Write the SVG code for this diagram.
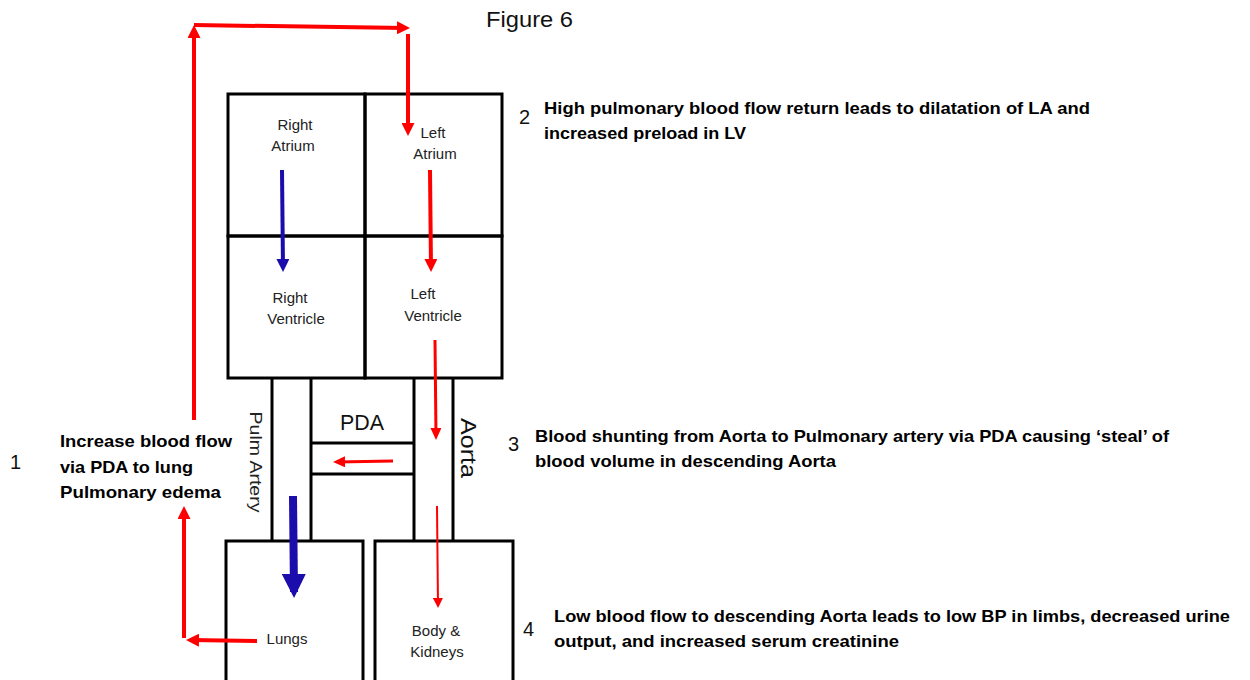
<svg xmlns="http://www.w3.org/2000/svg" width="1250" height="680" viewBox="0 0 1250 680">
<style>
.box{fill:none;stroke:#000;stroke-width:3}
.wall{stroke:#000;stroke-width:3;fill:none}
.lbl{font-family:"Liberation Sans",Arial,sans-serif;font-size:15px;fill:#222;text-anchor:middle}
.big{font-family:"Liberation Sans",Arial,sans-serif;font-size:22px;fill:#111}
.note{font-family:"Liberation Sans",Arial,sans-serif;font-size:17px;font-weight:bold;fill:#000}
.num{font-family:"Liberation Sans",Arial,sans-serif;font-size:20px;fill:#111}
.red{stroke:#ff0000;fill:none}
.blue{stroke:#1a0dab;fill:none}
</style>
<defs>
<marker id="ar" markerUnits="userSpaceOnUse" viewBox="0 0 13 13" markerWidth="13" markerHeight="13" refX="9" refY="6.5" orient="auto"><path d="M0,0 L13,6.5 L0,13 z" fill="#ff0000"/></marker>
<marker id="arm" markerUnits="userSpaceOnUse" viewBox="0 0 12 11" markerWidth="12" markerHeight="11" refX="8" refY="5.5" orient="auto"><path d="M0,0 L12,5.5 L0,11 z" fill="#ff0000"/></marker>
<marker id="ars" markerUnits="userSpaceOnUse" viewBox="0 0 10 10" markerWidth="10" markerHeight="10" refX="7" refY="5" orient="auto"><path d="M0,0 L10,5 L0,10 z" fill="#ff0000"/></marker>
<marker id="ab" markerUnits="userSpaceOnUse" viewBox="0 0 13 13" markerWidth="13" markerHeight="13" refX="9" refY="6.5" orient="auto"><path d="M0,0 L13,6.5 L0,13 z" fill="#1a0dab"/></marker>
<marker id="abl" markerUnits="userSpaceOnUse" viewBox="0 0 24 24" markerWidth="24" markerHeight="24" refX="18" refY="12" orient="auto"><path d="M0,0 L24,12 L0,24 z" fill="#1a0dab"/></marker>
</defs>
<rect width="1250" height="680" fill="#fff"/>

<text class="big" x="486" y="27" textLength="87" lengthAdjust="spacingAndGlyphs">Figure 6</text>

<g id="right-atrium">
<rect class="box" x="228" y="94" width="137" height="142"/>
<text class="lbl" x="295" y="130">Right</text>
<text class="lbl" x="293" y="151">Atrium</text>
</g>
<g id="left-atrium">
<rect class="box" x="365" y="94" width="137" height="142"/>
<text class="lbl" x="433" y="138">Left</text>
<text class="lbl" x="435" y="159">Atrium</text>
</g>
<g id="right-ventricle">
<rect class="box" x="228" y="236" width="137" height="142"/>
<text class="lbl" x="290" y="303">Right</text>
<text class="lbl" x="296" y="324">Ventricle</text>
</g>
<g id="left-ventricle">
<rect class="box" x="365" y="236" width="137" height="142"/>
<text class="lbl" x="423" y="299">Left</text>
<text class="lbl" x="433" y="321">Ventricle</text>
</g>
<g id="pulm-artery">
<line class="wall" x1="272" y1="378" x2="272" y2="541"/>
<line class="wall" x1="311" y1="378" x2="311" y2="541"/>
<text class="lbl" style="font-size:17px" transform="translate(250,462) rotate(90)" textLength="101" lengthAdjust="spacingAndGlyphs">Pulm Artery</text>
</g>
<g id="pda">
<line class="wall" x1="311" y1="443" x2="414" y2="443"/>
<line class="wall" x1="311" y1="474" x2="414" y2="474"/>
<text class="big" x="362" y="430" text-anchor="middle" textLength="44" lengthAdjust="spacingAndGlyphs">PDA</text>
</g>
<g id="aorta">
<line class="wall" x1="414" y1="378" x2="414" y2="541"/>
<line class="wall" x1="453" y1="378" x2="453" y2="541"/>
<text class="big" text-anchor="middle" transform="translate(461,448) rotate(90)" textLength="60" lengthAdjust="spacingAndGlyphs">Aorta</text>
</g>
<g id="lungs">
<rect class="box" x="226" y="541" width="137" height="160"/>
<text class="lbl" x="287" y="644">Lungs</text>
</g>
<g id="body-kidneys">
<rect class="box" x="375" y="541" width="138" height="160"/>
<text class="lbl" x="436" y="636">Body &amp;</text>
<text class="lbl" x="437" y="657">Kidneys</text>
</g>

<g id="connectors">
<line class="red" stroke-width="4" x1="194" y1="420" x2="194" y2="29" marker-end="url(#ar)"/>
<line class="red" stroke-width="4" x1="194" y1="25" x2="406" y2="28" marker-end="url(#ar)"/>
<line class="red" stroke-width="4" x1="408" y1="34" x2="408" y2="132" marker-end="url(#ar)"/>
<line class="blue" stroke-width="4" x1="282" y1="170" x2="283" y2="268" marker-end="url(#ab)"/>
<line class="red" stroke-width="4" x1="430" y1="170" x2="431" y2="268" marker-end="url(#ar)"/>
<line class="red" stroke-width="3" x1="435" y1="340" x2="436" y2="436" marker-end="url(#arm)"/>
<line class="red" stroke-width="3" x1="393" y1="461" x2="337" y2="462" marker-end="url(#arm)"/>
<line class="blue" stroke-width="8" x1="293" y1="496" x2="294" y2="592" marker-end="url(#abl)"/>
<line class="red" stroke-width="2" x1="437" y1="506" x2="438" y2="605" marker-end="url(#ars)"/>
<line class="red" stroke-width="4" x1="257" y1="641" x2="190" y2="640" marker-end="url(#ar)"/>
<line class="red" stroke-width="4" x1="184" y1="638" x2="184" y2="510" marker-end="url(#ar)"/>
</g>

<g id="note-1">
<text class="num" x="10" y="469">1</text>
<text class="note" x="60" y="447" textLength="172" lengthAdjust="spacingAndGlyphs">Increase blood flow</text>
<text class="note" x="60" y="473" textLength="133" lengthAdjust="spacingAndGlyphs">via PDA to lung</text>
<text class="note" x="60" y="498" textLength="161" lengthAdjust="spacingAndGlyphs">Pulmonary edema</text>
</g>
<g id="note-2">
<text class="num" x="519" y="124">2</text>
<text class="note" x="544" y="114" textLength="546" lengthAdjust="spacingAndGlyphs">High pulmonary blood flow return leads to dilatation of LA and</text>
<text class="note" x="544" y="139" textLength="202" lengthAdjust="spacingAndGlyphs">increased preload in LV</text>
</g>
<g id="note-3">
<text class="num" x="508" y="451">3</text>
<text class="note" x="535" y="442" textLength="634" lengthAdjust="spacingAndGlyphs">Blood shunting from Aorta to Pulmonary artery via PDA causing ‘steal’ of</text>
<text class="note" x="535" y="467" textLength="301" lengthAdjust="spacingAndGlyphs">blood volume in descending Aorta</text>
</g>
<g id="note-4">
<text class="num" x="523" y="636">4</text>
<text class="note" x="554" y="622" textLength="676" lengthAdjust="spacingAndGlyphs">Low blood flow to descending Aorta leads to low BP in limbs, decreased urine</text>
<text class="note" x="554" y="647" textLength="345" lengthAdjust="spacingAndGlyphs">output, and increased serum creatinine</text>
</g>
</svg>
